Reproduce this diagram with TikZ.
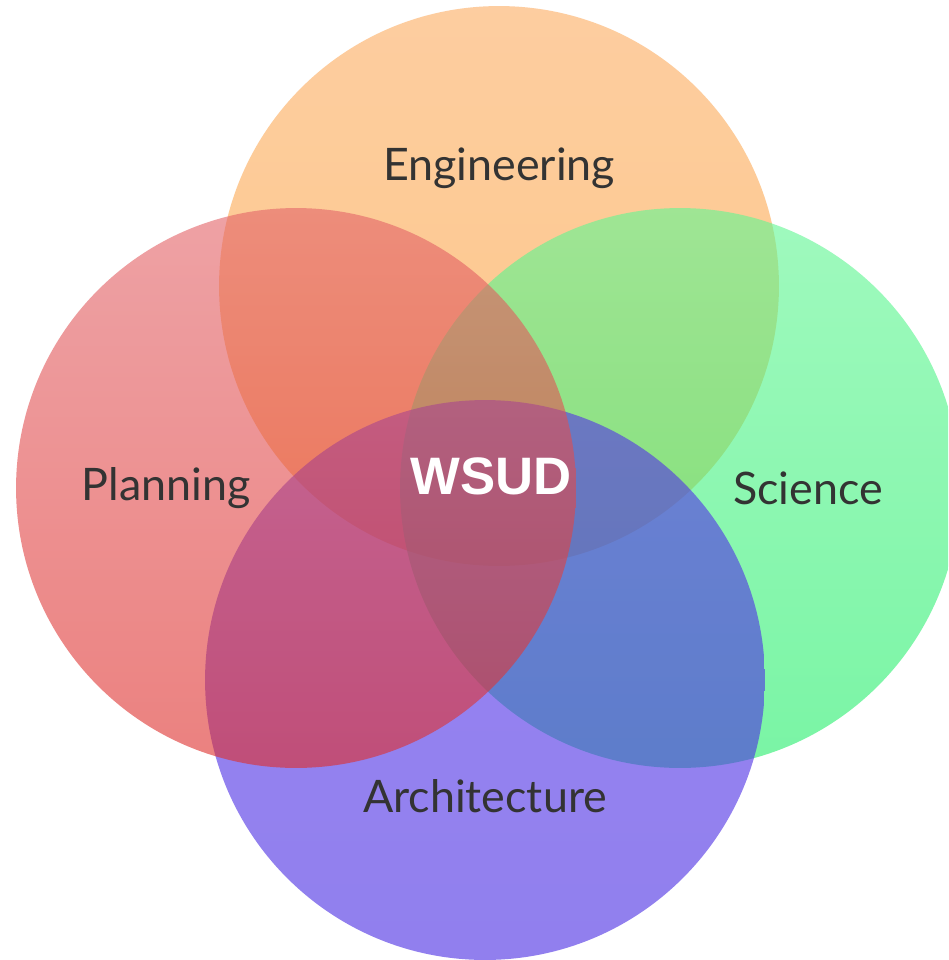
\documentclass[tikz,border=0pt]{standalone}
\usepackage{fontspec}
\setmainfont{Lato}
\newfontfamily\wsudfont{Liberation Sans}
\usetikzlibrary{positioning}

% base colours, seen at 60% over white
\definecolor{engtop}{RGB}{253,172,97}
\definecolor{engbottom}{RGB}{252,163,55}
\definecolor{plantop}{RGB}{227,100,105}
\definecolor{planbottom}{RGB}{223,45,42}
\definecolor{scitop}{RGB}{97,247,147}
\definecolor{scibottom}{RGB}{33,238,105}
\definecolor{archtop}{RGB}{83,50,233}
\definecolor{archbottom}{RGB}{72,43,227}
\definecolor{labelgray}{RGB}{51,51,51}

\begin{document}
\begin{tikzpicture}
    [
        x=0.02cm, y=-0.02cm,
        set/.style = {
            opacity=0.6
        },
        label text/.style = {
            text=labelgray, inner sep=0pt,
            font=\fontsize{25.5}{30}\selectfont
        },
    ]
    \fill[white] (0,0) rectangle (948,960);
    \useasboundingbox (0,0) rectangle (948,960);
    \clip (0,0) rectangle (948,960);
    % the four sets
    \shade[set, top color=engtop, bottom color=engbottom] (499,286) circle [radius=5.6cm];
    \shade[set, top color=scitop, bottom color=scibottom] (680,488) circle [radius=5.6cm];
    \shade[set, top color=archtop, bottom color=archbottom] (485,680) circle [radius=5.6cm];
    \shade[set, top color=plantop, bottom color=planbottom] (296,488) circle [radius=5.6cm];
    % labels
    \node[label text] (engineering) at (499,168) {Engineering};
    \node[label text] (planning) at (166,488) {Planning};
    \node[label text] (science) at (808,488) {Science};
    \node[label text] (architecture) at (485,796) {Architecture};
    \node[text=white, inner sep=0pt, font=\wsudfont\bfseries\fontsize{30}{34}\selectfont] (wsud) at (491,476) {WSUD};
\end{tikzpicture}
\end{document}
